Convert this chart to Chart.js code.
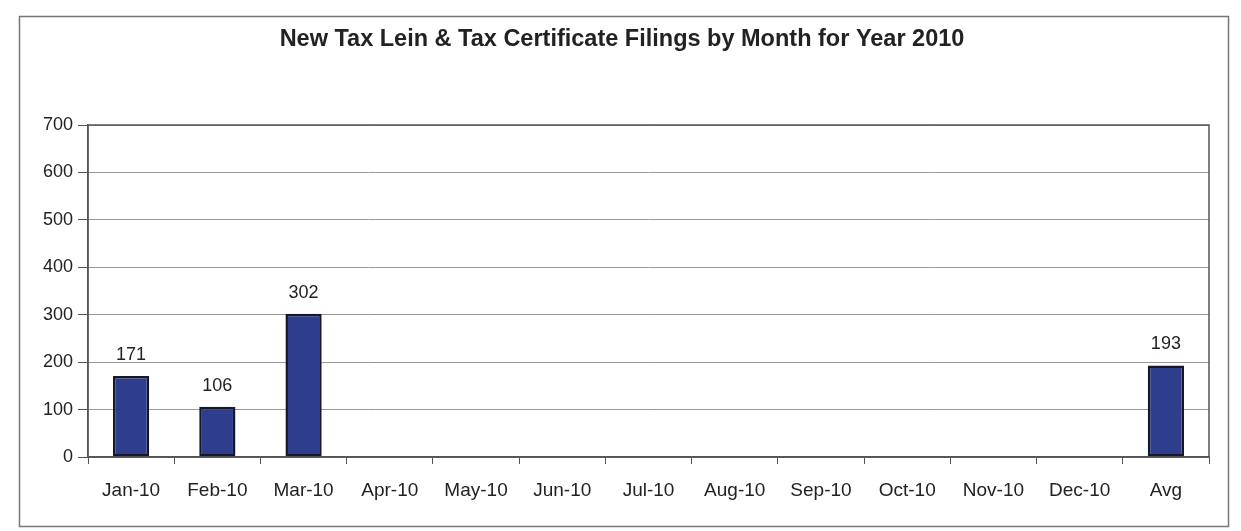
<!DOCTYPE html>
<html>
<head>
<meta charset="utf-8">
<script src="https://cdn.jsdelivr.net/npm/chart.js@4.4.0/dist/chart.umd.min.js"></script>
<style>
  body { margin: 0; background: #fff; }
  #wrap { position: relative; width: 1241px; height: 531px; }
</style>
</head>
<body>
<div id="wrap"><canvas id="c1"></canvas></div>
<script>
// months + average column
var months = ["Jan-10", "Feb-10", "Mar-10", "Apr-10", "May-10", "Jun-10",
  "Jul-10", "Aug-10", "Sep-10", "Oct-10", "Nov-10", "Dec-10", "Avg"];
var filings = [171, 106, 302, null, null, null, null, null, null, null, null, null, 193];
var yTicks = [0, 100, 200, 300, 400, 500, 600, 700];

var font = "'Liberation Sans', Arial, sans-serif";

// outer frame + plot box
var frames = {
  id: "frames",
  beforeDraw: function (chart) {
    var ctx = chart.ctx;
    ctx.save();
    ctx.fillStyle = "#fff";
    ctx.fillRect(0, 0, chart.width, chart.height);
    ctx.strokeStyle = "#777";
    ctx.lineWidth = 1.5;
    ctx.strokeRect(19.5, 16.5, 1209, 510);
    ctx.restore();
  },
  afterDraw: function (chart) {
    var a = chart.chartArea;
    var ctx = chart.ctx;
    ctx.save();
    ctx.strokeStyle = "#555";
    ctx.lineWidth = 1.5;
    ctx.strokeRect(a.left, a.top, a.right - a.left, a.bottom - a.top);
    ctx.restore();
  }
};

// value above each bar
var barLabels = {
  id: "barLabels",
  afterDatasetsDraw: function (chart) {
    var ctx = chart.ctx;
    var meta = chart.getDatasetMeta(0);
    ctx.save();
    ctx.font = "18px " + font;
    ctx.fillStyle = "#222";
    ctx.textAlign = "center";
    ctx.textBaseline = "alphabetic";
    meta.data.forEach(function (bar, i) {
      var v = filings[i];
      if (v == null) return;
      ctx.fillText(String(v), bar.x, bar.y - 16);
    });
    ctx.restore();
  }
};

var ctx = document.getElementById("c1").getContext("2d");
var chart = new Chart(ctx, {
  type: "bar",
  data: {
    labels: months,
    datasets: [
      {
        data: filings,
        backgroundColor: "#2e3d8c",
        borderColor: "#15172a",
        borderWidth: 2.5,
        borderSkipped: false,
        barPercentage: 0.42,
        categoryPercentage: 1
      }
    ]
  },
  options: {
    responsive: true,
    maintainAspectRatio: false,
    animation: false,
    layout: { padding: { left: 35, right: 32, top: 0, bottom: 0 } },
    plugins: {
      legend: { display: false },
      tooltip: { enabled: false },
      title: {
        display: true,
        text: "New Tax Lein & Tax Certificate Filings by Month for Year 2010",
        color: "#222",
        font: { family: font, size: 23.5, weight: "bold", lineHeight: 1.2 },
        padding: { top: 25, bottom: 71.8 }
      }
    },
    scales: {
      x: {
        grid: { offset: true, drawOnChartArea: false, tickLength: 7, tickColor: "#555" },
        border: { color: "#555", width: 1.5 },
        ticks: { color: "#222", padding: 15, font: { family: font, size: 19 }, maxRotation: 0 },
        afterFit: function (s) { s.height = 74; }
      },
      y: {
        min: 0,
        max: 700,
        afterBuildTicks: function (s) {
          s.ticks = yTicks.map(function (v) { return { value: v }; });
        },
        grid: { color: "#999", tickLength: 10, tickColor: "#555" },
        border: { color: "#555", width: 1.5 },
        ticks: { color: "#222", padding: 5, font: { family: font, size: 18 } },
        afterFit: function (s) { s.width = 53; }
      }
    }
  },
  plugins: [frames, barLabels]
});
</script>
</body>
</html>
